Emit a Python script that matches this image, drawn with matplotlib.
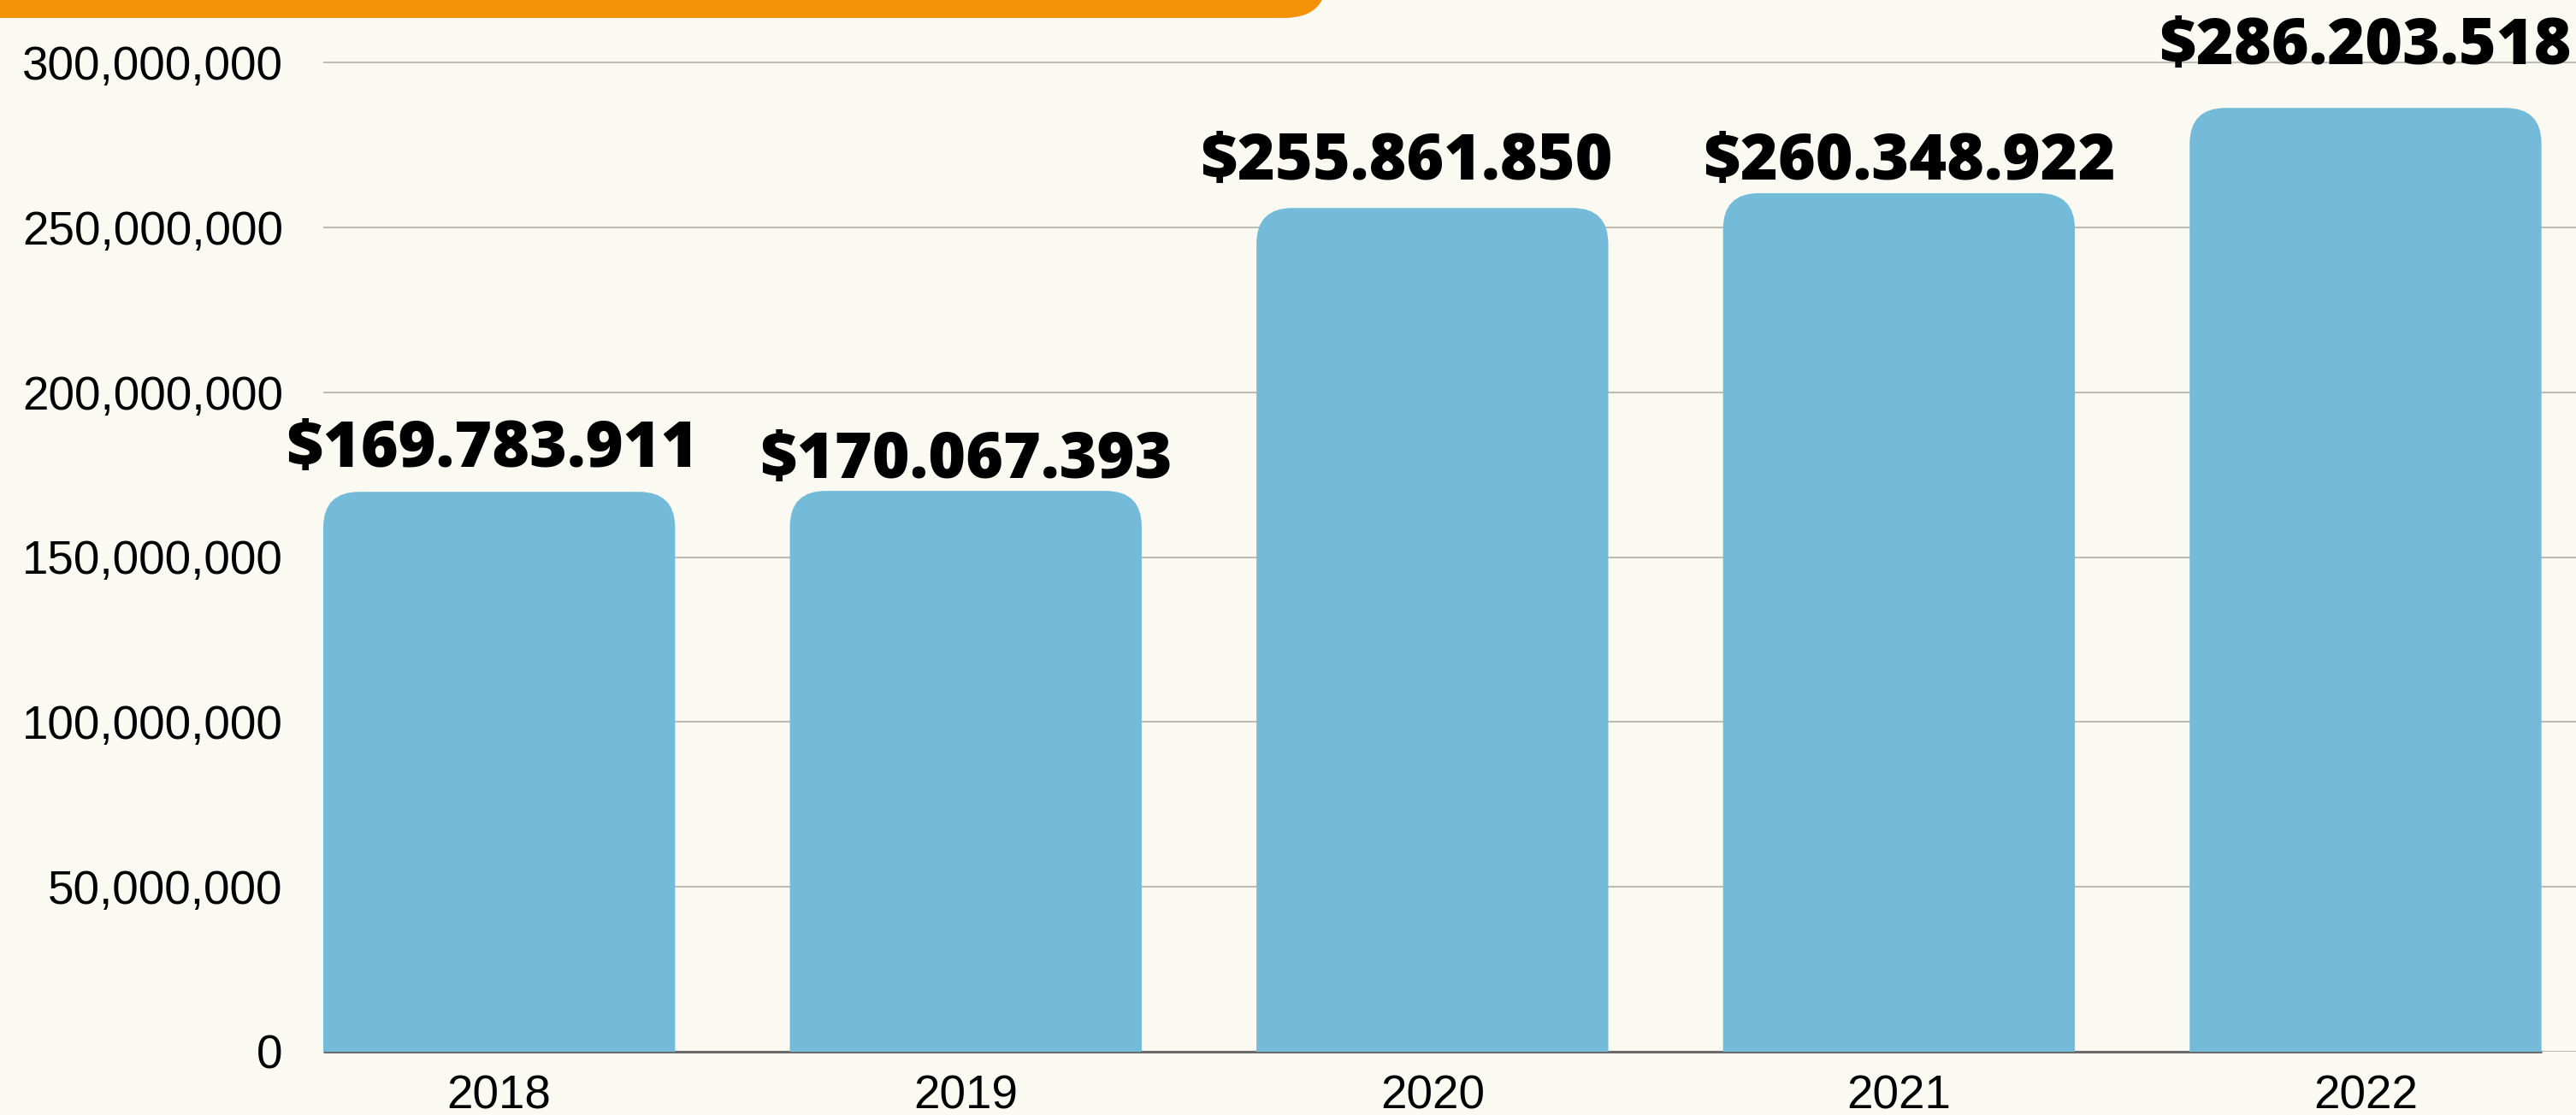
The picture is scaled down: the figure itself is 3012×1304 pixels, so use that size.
import matplotlib
matplotlib.use("Agg")
import matplotlib.pyplot as plt
from matplotlib.patches import FancyBboxPatch
from matplotlib.ticker import FuncFormatter
from matplotlib.transforms import IdentityTransform

# data
years = ['2018', '2019', '2020', '2021', '2022']
values = [169783911, 170067393, 255861850, 260348922, 286203518]
value_labels = ['$169.783.911', '$170.067.393', '$255.861.850', '$260.348.922', '$286.203.518']
y_ticks = [0, 50e6, 100e6, 150e6, 200e6, 250e6, 300e6]

# label nudges in pixels (dx, gap above the bar top)
label_dx = [-8, 0, -30, 12, -1]
label_gap = [29, 15, 33, 16, 51]

BG = '#FAFAF3'
BAR = '#73BBD8'
ORANGE = '#F39204'
W, H, DPI = 3012, 1304, 100

fig = plt.figure(figsize=(W / DPI, H / DPI), dpi=DPI, facecolor=BG)
ax_left, ax_bottom = 378 / W, 74 / H
ax = fig.add_axes([ax_left, ax_bottom, 1 - ax_left, 1 - ax_bottom])
ax.set_facecolor(BG)

ymax = 300e6 + 73 / 1157 * 300e6
ax.set_xlim(-0.377, 4.451)
ax.set_ylim(0, ymax)

bar_w = 0.754
bars = ax.bar(range(len(years)), values, width=bar_w, color=BAR, zorder=3)

# swap the plain rectangles for ones with rounded tops
ax_w_px = W * (1 - ax_left)
ax_h_px = H * (1 - ax_bottom)
x_per_px = (4.451 + 0.377) / ax_w_px
y_per_px = ymax / ax_h_px
aspect = y_per_px / x_per_px
r = 42 * x_per_px
for b in bars:
    x0, w, h = b.get_x(), b.get_width(), b.get_height()
    b.set_visible(False)
    p = FancyBboxPatch((x0, -50 * y_per_px), w, h + 50 * y_per_px,
                       boxstyle=f'round,pad=0,rounding_size={r}',
                       mutation_aspect=aspect, facecolor=BAR, edgecolor='none', zorder=3)
    ax.add_patch(p)

for i, (v, lab) in enumerate(zip(values, value_labels)):
    ax.annotate(lab, (i, v), xytext=(label_dx[i], label_gap[i]), textcoords='offset pixels',
                ha='center', va='baseline', fontsize=54, fontweight=800,
                family='Open Sans', color='black', zorder=5, annotation_clip=False)

# gridlines and baseline
ax.set_yticks(y_ticks)
ax.yaxis.set_major_formatter(FuncFormatter(lambda v, _: f'{v:,.0f}'))
ax.grid(axis='y', color='#BDBDB5', linewidth=1.5, zorder=0)
ax.set_axisbelow(True)
ax.hlines(0, -bar_w / 2, len(years) - 1 + bar_w / 2, color='#6B6B6B', linewidth=2.2,
          zorder=2, clip_on=False)

ax.set_xticks(range(len(years)))
ax.set_xticklabels(years)
for s in ax.spines.values():
    s.set_visible(False)
ax.tick_params(axis='both', length=0, labelsize=39.5, labelcolor='black')
ax.tick_params(axis='y', pad=34)
ax.tick_params(axis='x', pad=19)
for t in ax.get_xticklabels() + ax.get_yticklabels():
    t.set_family('Liberation Sans')

# orange banner at the top left
banner = FancyBboxPatch((-100, H - 21), 1652, 200, boxstyle='round,pad=0,rounding_size=50',
                        facecolor=ORANGE, edgecolor='none', transform=IdentityTransform(),
                        figure=fig)
fig.patches.append(banner)

fig.savefig('out.png', dpi=DPI, facecolor=BG)
